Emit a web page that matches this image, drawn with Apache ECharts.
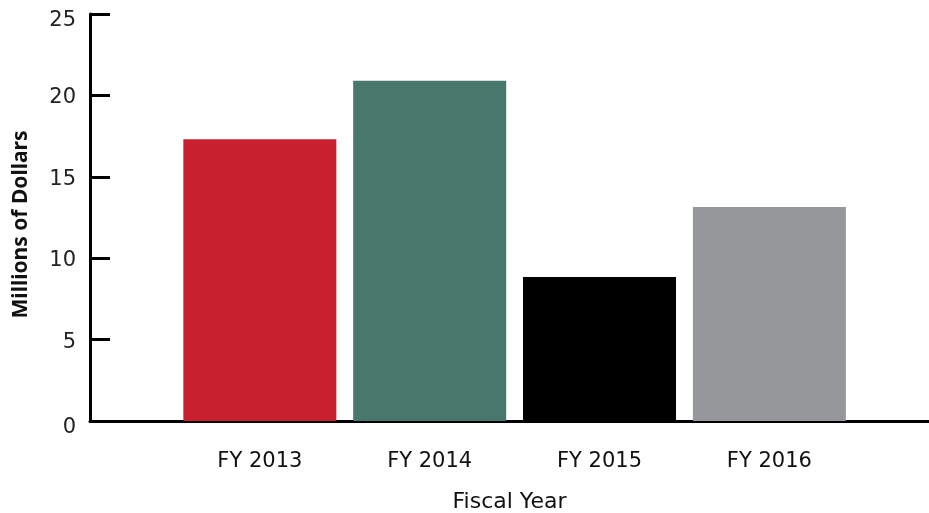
<!DOCTYPE html>
<html>
<head>
<meta charset="utf-8">
<script src="https://cdn.jsdelivr.net/npm/echarts@6/dist/echarts.min.js"></script>
<style>
  html, body { margin: 0; padding: 0; background: #fff; }
  #chart { width: 929px; height: 513px; }
</style>
</head>
<body>
<div id="chart"></div>
<script type="text/javascript">
// data
var years = ['FY 2013', 'FY 2014', 'FY 2015', 'FY 2016'];
var values = [17.3, 20.9, 8.85, 13.15];
var colors = ['#C8202F', '#48776C', '#000000', '#96979B'];
var yTicks = [0, 5, 10, 15, 20, 25];

var font = '"DejaVu Sans", sans-serif';

var chart = echarts.init(document.getElementById('chart'));

// bars sit on a value axis so that the axis can run past the last bar
var barData = years.map(function (y, i) {
    return {
        value: [i + 1, values[i]],
        itemStyle: { color: colors[i] }
    };
});

var option = {
    animation: false,
    grid: {
        left: 90,
        right: 0,
        top: 14,
        bottom: 92,
        containLabel: false,
        outerBoundsMode: 'none'
    },
    xAxis: {
        type: 'value',
        min: 0,
        max: 4.94,
        interval: 1,
        name: 'Fiscal Year',
        nameLocation: 'middle',
        nameGap: 70,
        nameTextStyle: { fontFamily: font, fontSize: 22, color: '#111' },
        splitLine: { show: false },
        axisTick: { show: false },
        axisLine: { show: true, lineStyle: { color: '#000', width: 3 } },
        axisLabel: {
            margin: 30,
            showMaxLabel: false,
            fontFamily: font,
            fontSize: 21,
            color: '#111',
            formatter: function (v) {
                return years[v - 1] || '';
            }
        }
    },
    yAxis: {
        type: 'value',
        min: yTicks[0],
        max: yTicks[yTicks.length - 1],
        interval: 5,
        name: 'Millions of Dollars',
        nameLocation: 'middle',
        nameRotate: 90,
        nameGap: 58,
        nameTextStyle: { fontFamily: '"Noto Sans", sans-serif', fontSize: 21, fontWeight: 'bold', color: '#111', padding: [0, 14, 0, 0] },
        splitLine: { show: false },
        axisLine: { show: true, onZero: false, lineStyle: { color: '#000', width: 3 } },
        axisTick: { show: true, inside: true, length: 20, lineStyle: { color: '#000', width: 3 } },
        axisLabel: {
            margin: 14,
            fontFamily: font,
            fontSize: 21,
            color: '#222',
            formatter: function (v) {
                if (v === yTicks[0] || v === yTicks[yTicks.length - 1]) {
                    return '{edge|' + v + '}';
                }
                return '{mid|' + v + '}';
            },
            rich: {
                edge: { fontFamily: font, fontSize: 21, color: '#222', padding: [14, 0, 0, 0] },
                mid: { fontFamily: font, fontSize: 21, color: '#222', padding: [5, 0, 0, 0] }
            }
        }
    },
    series: [
        {
            type: 'bar',
            barWidth: 153,
            data: barData
        }
    ]
};

chart.setOption(option);
</script>
</body>
</html>
